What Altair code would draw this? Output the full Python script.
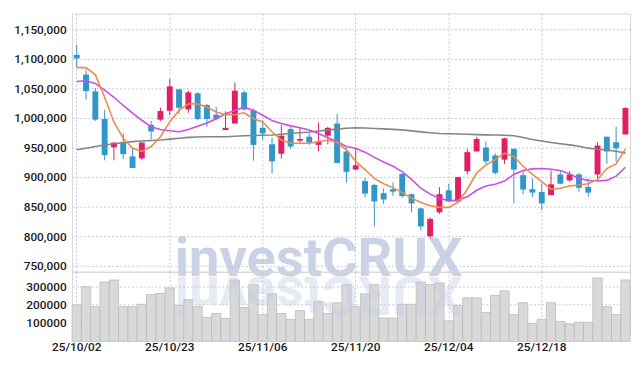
import altair as alt
import pandas as pd

dates = [
    "25/10/02", "25/10/10", "25/10/13", "25/10/14", "25/10/15", "25/10/16", "25/10/17", "25/10/20", "25/10/21", "25/10/22",
    "25/10/23", "25/10/24", "25/10/27", "25/10/28", "25/10/29", "25/10/30", "25/10/31", "25/11/03", "25/11/04", "25/11/05",
    "25/11/06", "25/11/07", "25/11/10", "25/11/11", "25/11/12", "25/11/13", "25/11/14", "25/11/17", "25/11/18", "25/11/19",
    "25/11/20", "25/11/21", "25/11/24", "25/11/25", "25/11/26", "25/11/27", "25/11/28", "25/12/01", "25/12/02", "25/12/03",
    "25/12/04", "25/12/05", "25/12/08", "25/12/09", "25/12/10", "25/12/11", "25/12/12", "25/12/15", "25/12/16", "25/12/17",
    "25/12/18", "25/12/19", "25/12/22", "25/12/23", "25/12/24", "25/12/26", "25/12/29", "25/12/30", "26/01/02", "26/01/05",
]
opens = [
    1106600, 1073300, 1044900, 998200, 950300, 959300, 934800, 931500, 988200, 997000,
    1012100, 1048300, 1014400, 1041600, 1021600, 1005400, 979400, 990400, 1043200, 1012700,
    983200, 955300, 939300, 981000, 961500, 968200, 954300, 969900, 990400, 943200,
    912600, 893100, 886500, 872600, 879300, 905300, 870900, 846900, 799700, 840200,
    877600, 858600, 909800, 943200, 949800, 936500, 929300, 947700, 903100, 879300,
    874800, 869300, 904300, 894300, 904300, 883100, 904300, 968200, 958700, 972000,
]
highs = [
    1123800, 1082100, 1050400, 1013700, 959000, 973700, 948700, 959000, 994900, 1017100,
    1066100, 1049000, 1046100, 1043200, 1023700, 1018200, 1011000, 1059900, 1046000, 1015500,
    996000, 966500, 987700, 984900, 983200, 975400, 992100, 984900, 1007000, 949800,
    948700, 898600, 888700, 880900, 891000, 906000, 872000, 848000, 831900, 883100,
    888700, 900500, 947700, 968200, 959900, 940300, 966500, 948000, 909800, 897600,
    888700, 910900, 909800, 909800, 907000, 897600, 958700, 968200, 984900, 1018200,
]
lows = [
    1085000, 1031100, 994900, 928200, 928200, 930300, 915300, 928200, 963700, 994900,
    1004400, 1006000, 1008700, 996000, 984900, 996000, 979400, 990400, 1012000, 927600,
    962700, 905900, 931000, 947700, 955300, 954300, 943200, 955300, 923700, 890300,
    911000, 865300, 816400, 854200, 868100, 865300, 840200, 809700, 796400, 837600,
    858600, 858600, 904300, 943200, 921000, 904300, 922000, 855300, 870900, 866500,
    844200, 869300, 887600, 892000, 875300, 866500, 895900, 922000, 926500, 972000,
]
closes = [
    1100500, 1045400, 997000, 937000, 958200, 938700, 915300, 958200, 977000, 1011600,
    1053300, 1017100, 1043200, 998200, 998200, 998700, 983200, 1046100, 1014400, 954300,
    973700, 926500, 969900, 951500, 964300, 958200, 959900, 983200, 923700, 908700,
    919800, 871900, 858600, 861900, 875200, 867600, 855300, 816400, 829200, 870900,
    858600, 899800, 942000, 964300, 926500, 907000, 965400, 912600, 878700, 873600,
    855300, 887600, 888700, 904300, 882000, 873600, 953200, 943200, 948700, 1016600,
]
volumes = [
    198000, 298000, 189000, 323000, 334000, 189000, 189000, 202000, 255000, 261000,
    291000, 195000, 227000, 189000, 130000, 152000, 125000, 334000, 184000, 309000,
    146000, 259000, 152000, 120000, 168000, 120000, 216000, 152000, 210000, 308000,
    189000, 259000, 309000, 127000, 127000, 202000, 202000, 323000, 309000, 318000,
    112000, 195000, 237000, 237000, 157000, 250000, 275000, 146000, 211000, 98000,
    120000, 211000, 109000, 93000, 104000, 104000, 345000, 189000, 146000, 334000,
]
ma5 = [
    1085000, 1085000, 1072800, 1034900, 993200, 965400, 948700, 943200, 951500, 968200,
    993200, 1012700, 1023700, 1023700, 1018200, 1009900, 1005400, 1005400, 1008700, 998700,
    993200, 976500, 962700, 957000, 957000, 957000, 959800, 962700, 958700, 946000,
    926500, 912600, 897600, 888700, 882000, 873600, 864200, 857000, 851400, 848600,
    848600, 857000, 879300, 907000, 920000, 929300, 940300, 934800, 918100, 904300,
    892000, 879300, 881000, 884800, 886500, 888700, 895900, 914300, 922000, 947700,
]
ma20 = [
    1061600, 1062800, 1058300, 1047100, 1034900, 1021000, 1008200, 996000, 984900, 980400,
    978200, 976500, 980400, 986000, 991500, 998500, 1007100, 1012700, 1018200, 1012700,
    1004400, 995400, 990400, 986500, 983200, 979400, 973700, 966500, 959900, 951500,
    948700, 942000, 933200, 925300, 918100, 909000, 895900, 881000, 871000, 864200,
    859800, 860900, 866500, 877600, 884800, 887600, 893100, 904300, 911000, 913700,
    914300, 913100, 911000, 905300, 897600, 894300, 893100, 894300, 901500, 916500,
]
ma60 = [
    946000, 948800, 951500, 954300, 956200, 958000, 959900, 960800, 961800, 962700,
    964100, 965500, 967000, 967800, 968200, 968200, 968200, 969000, 969900, 970300,
    970600, 971000, 972400, 973900, 975000, 976000, 977700, 979300, 981000, 982500,
    983200, 982800, 982100, 981400, 980600, 979700, 978000, 976300, 974800, 973700,
    973200, 972700, 972200, 971700, 971300, 971000, 970600, 969900, 967000, 963500,
    960900, 958400, 956200, 954300, 952000, 948800, 947000, 945600, 943500, 940400,
]
label_dates = ["25/10/02", "25/10/23", "25/11/06", "25/11/20", "25/12/04", "25/12/18"]
price_ticks = [750000, 800000, 850000, 900000, 950000, 1000000, 1050000, 1100000, 1150000]
volume_ticks = [100000, 200000, 300000]

RED = "#e11f64"
BLUE = "#3197c9"
GRID = "#c6c6d6"
FONT = "Roboto"
LABEL_COLOR = "#1a1a1a"

df = pd.DataFrame({
    "date": dates, "open": opens, "high": highs, "low": lows, "close": closes,
    "volume": volumes, "ma5": ma5, "ma20": ma20, "ma60": ma60,
})
df["dir"] = ["up" if c >= o else "down" for o, c in zip(opens, closes)]

W = 566
x_scale = alt.Scale(paddingInner=0, paddingOuter=0)
x_price = alt.X("date:O", sort=None, scale=x_scale,
                axis=alt.Axis(values=label_dates, labels=False, ticks=False, domain=False,
                              grid=True, gridColor=GRID, gridDash=[2, 2], title=None,
                              minExtent=0, maxExtent=0))
color = alt.Color("dir:N", scale=alt.Scale(domain=["up", "down"], range=[RED, BLUE]), legend=None)
y_price_scale = alt.Scale(domain=[739700, 1176700], nice=False, zero=False)
y_axis_common = dict(ticks=False, domain=False, grid=True, gridColor=GRID, gridDash=[2, 2],
                     title=None, labelPadding=6, minExtent=57, maxExtent=57, labelOverlap=False,
                     labelFont=FONT, labelFontSize=12, labelColor=LABEL_COLOR, labelFontWeight=500)
price_axis = alt.Axis(values=price_ticks, format=",d", **y_axis_common)


def yP(field):
    return alt.Y(field, scale=y_price_scale, axis=price_axis)


base = alt.Chart(df)

wick = base.mark_rule(strokeWidth=1).encode(
    x=x_price, y=yP("low:Q"), y2="high:Q", color=color,
)
body = base.mark_bar(size=6).encode(
    x=x_price, y=yP("open:Q"), y2="close:Q", color=color,
)
line60 = base.mark_line(color="#858585", strokeWidth=1.6).encode(x=x_price, y=yP("ma60:Q"))
line20 = base.mark_line(color="#c94fe6", strokeWidth=1.6).encode(x=x_price, y=yP("ma20:Q"))
line5 = base.mark_line(color="#ef8a4c", strokeWidth=1.6).encode(x=x_price, y=yP("ma5:Q"))

wm_df = pd.DataFrame({"t": ["investCRUX"], "r": ["XURCtsevni"]})
watermark = alt.Chart(wm_df).mark_text(
    font=FONT, fontSize=55, fontWeight="bold", color="#c3cbe3", opacity=0.85,
    align="center", baseline="alphabetic",
).encode(text="t:N", x=alt.value(250), y=alt.value(266))

price = alt.layer(watermark, wick, body, line60, line20, line5).properties(width=W, height=262)

x_vol = alt.X("date:O", sort=None, scale=x_scale,
              axis=alt.Axis(values=label_dates, labelAngle=0, ticks=False, domain=False,
                            grid=True, gridColor=GRID, gridDash=[2, 2], title=None,
                            labelPadding=6, labelFont=FONT, labelFontSize=12,
                            labelColor=LABEL_COLOR, labelFontWeight=500))
vol_bars = alt.Chart(df).mark_bar(color="#d9d9d9", stroke="#bcbcbc", strokeWidth=0.8).encode(
    x=x_vol,
    y=alt.Y("volume:Q", scale=alt.Scale(domain=[30300, 378800], nice=False, zero=False),
            axis=alt.Axis(values=volume_ticks, format="d", **y_axis_common)),
)
reflection = alt.Chart(wm_df).mark_text(
    font=FONT, fontSize=55, fontWeight="bold", color="#c3cbe3", opacity=0.4,
    align="center", baseline="alphabetic", angle=180,
).encode(text="r:N", x=alt.value(250), y=alt.value(5))

volume = alt.layer(vol_bars, reflection).properties(width=W, height=65)

chart = alt.vconcat(price, volume, spacing=0, bounds="flush").configure(
    padding={"left": 5, "top": 2, "right": 5, "bottom": 5},
).configure_view(stroke="#d6d6d6")

chart.save("out.html", embed_options={"renderer": "svg", "actions": False})
